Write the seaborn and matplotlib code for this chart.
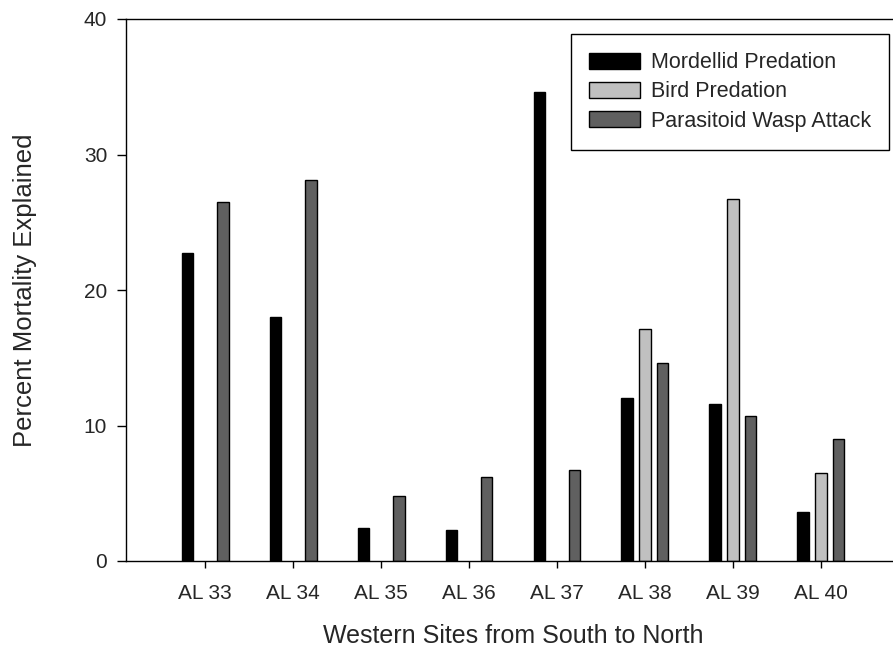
import numpy as np
import pandas as pd
import matplotlib
matplotlib.use('Agg')
import matplotlib.pyplot as plt
from matplotlib.patches import Patch
import seaborn as sns

sns.set_style('ticks')
plt.rcParams['font.family'] = ['Liberation Sans', 'DejaVu Sans']

# -----------------------------------------------------------------------------
# Data (percent mortality explained)
# -----------------------------------------------------------------------------
sites = ['AL 33', 'AL 34', 'AL 35', 'AL 36', 'AL 37', 'AL 38', 'AL 39', 'AL 40']
mordellid = [22.7, 18.0, 2.4, 2.3, 34.6, 12.0, 11.55, 3.65]
bird = [np.nan, np.nan, np.nan, np.nan, np.nan, 17.15, 26.7, 6.5]
wasp = [26.5, 28.1, 4.8, 6.2, 6.75, 14.6, 10.7, 9.0]

causes = ['Mordellid Predation', 'Bird Predation', 'Parasitoid Wasp Attack']
colors = ['#000000', '#c0c0c0', '#606060']

df = pd.DataFrame({
    'site': sites * 3,
    'cause': [causes[0]] * 8 + [causes[1]] * 8 + [causes[2]] * 8,
    'value': mordellid + bird + wasp,
})

# -----------------------------------------------------------------------------
# Plot (original figure is cropped on the right, axes run past the edge)
# -----------------------------------------------------------------------------
W, H = 893, 657
fig = plt.figure(figsize=(W / 100, H / 100), dpi=100)
ax = fig.add_axes([126 / W, 1 - 561 / H, (900 - 126) / W, (561 - 19) / H])

sns.barplot(data=df, x='site', y='value', hue='cause', order=sites,
            hue_order=causes, palette=colors, width=0.6, gap=0.33,
            edgecolor='black', linewidth=1, legend=False, ax=ax)

ax.set_xlim(-0.898, 7.898)
ax.set_ylim(0, 40)
ax.set_yticks([0, 10, 20, 30, 40])

ax.set_xlabel('Western Sites from South to North', fontsize=18, labelpad=15)
ax.set_ylabel('Percent Mortality Explained', fontsize=18.5, labelpad=34)
ax.tick_params(axis='y', labelsize=15, length=6.5, width=1, pad=7, color='black')
ax.tick_params(axis='x', labelsize=15, length=5, width=1, pad=11.5, color='black')

for side in ['left', 'bottom', 'top']:
    ax.spines[side].set_visible(True)
    ax.spines[side].set_linewidth(1.0)
    ax.spines[side].set_color('black')
ax.spines['right'].set_visible(False)

handles = [Patch(facecolor=c, edgecolor='black', linewidth=1) for c in colors]
leg = ax.legend(handles, causes, loc='upper right', fontsize=15.5,
                bbox_to_anchor=(889 / W, 1 - 34 / H), bbox_transform=fig.transFigure,
                borderaxespad=0, borderpad=0.85, handlelength=2.33, handleheight=0.74,
                handletextpad=0.51, labelspacing=0.38, fancybox=False, framealpha=1,
                edgecolor='black')
leg.get_frame().set_linewidth(1.0)

fig.savefig('out.png', dpi=100)
